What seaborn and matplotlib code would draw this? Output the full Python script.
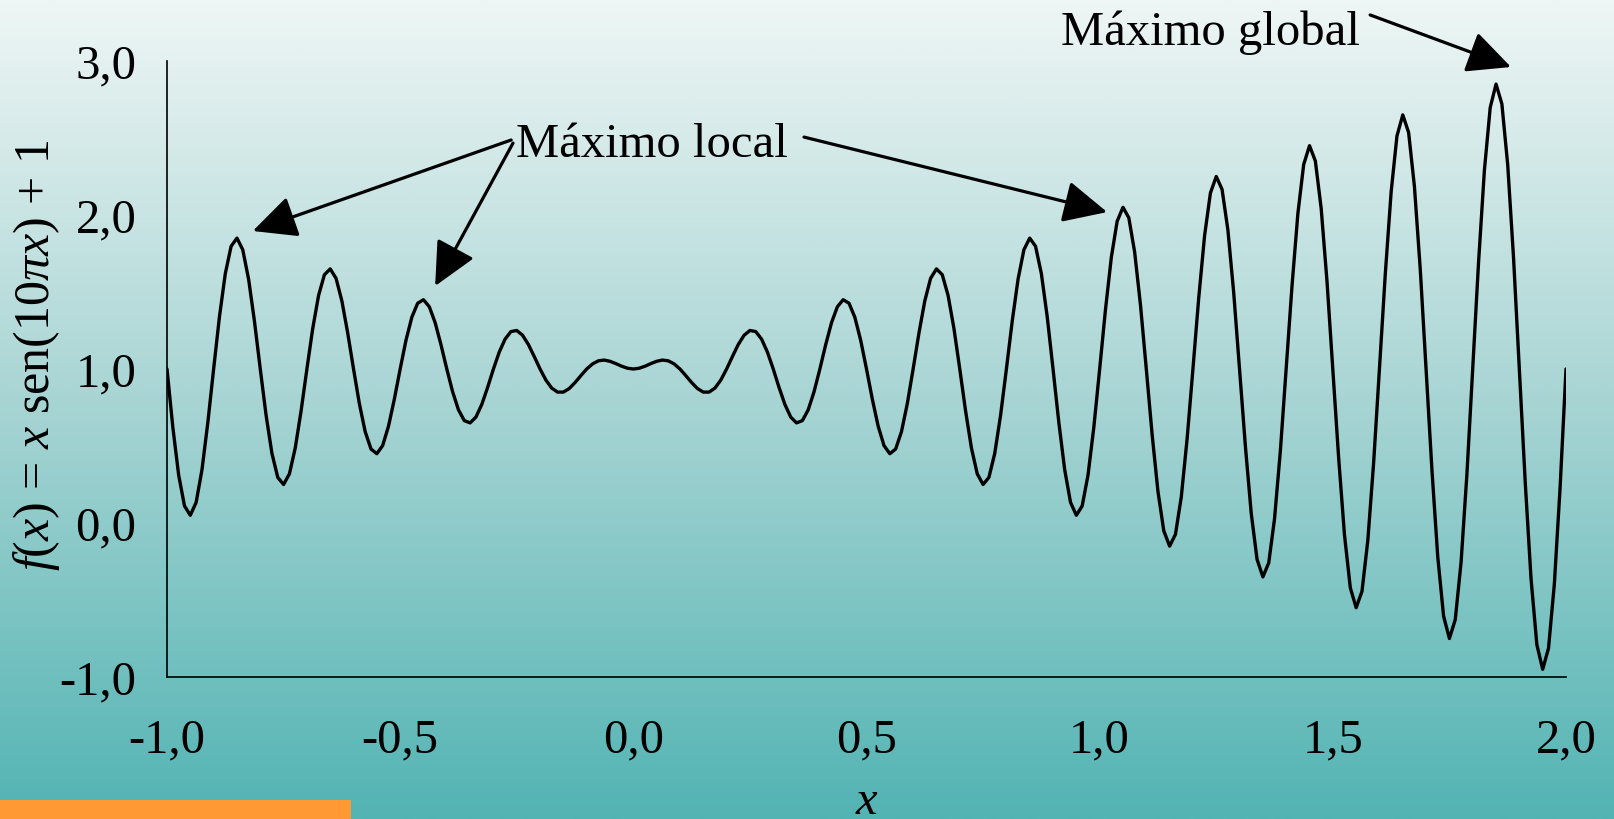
import numpy as np
import matplotlib
matplotlib.use("Agg")
import matplotlib.pyplot as plt
from matplotlib.colors import LinearSegmentedColormap
from matplotlib.patches import Rectangle
import seaborn as sns

# ---------------- data ----------------
x_start, x_end, n_points = -1.0, 2.0, 241
x_values = np.linspace(x_start, x_end, n_points)

y_values = [
    1.000, 0.622, 0.311, 0.111, 0.050, 0.134, 0.346, 0.651, 1.000, 1.340, 1.619, 1.797, 1.850, 1.774, 1.583, 1.311,
    1.000, 0.699, 0.452, 0.296, 0.250, 0.319, 0.487, 0.727, 1.000, 1.263, 1.477, 1.612, 1.650, 1.589, 1.442, 1.234,
    1.000, 0.775, 0.593, 0.480, 0.450, 0.503, 0.629, 0.804, 1.000, 1.187, 1.336, 1.427, 1.450, 1.404, 1.301, 1.158,
    1.000, 0.852, 0.735, 0.665, 0.650, 0.688, 0.770, 0.880, 1.000, 1.110, 1.194, 1.243, 1.250, 1.219, 1.159, 1.081,
    1.000, 0.928, 0.876, 0.850, 0.850, 0.873, 0.912, 0.957, 1.000, 1.033, 1.053, 1.058, 1.050, 1.035, 1.018, 1.005,
    1.000, 1.005, 1.018, 1.035, 1.050, 1.058, 1.053, 1.033, 1.000, 0.957, 0.912, 0.873, 0.850, 0.850, 0.876, 0.928,
    1.000, 1.081, 1.159, 1.219, 1.250, 1.243, 1.194, 1.110, 1.000, 0.880, 0.770, 0.688, 0.650, 0.665, 0.735, 0.852,
    1.000, 1.158, 1.301, 1.404, 1.450, 1.427, 1.336, 1.187, 1.000, 0.804, 0.629, 0.503, 0.450, 0.480, 0.593, 0.775,
    1.000, 1.234, 1.442, 1.589, 1.650, 1.612, 1.477, 1.263, 1.000, 0.727, 0.487, 0.319, 0.250, 0.296, 0.452, 0.699,
    1.000, 1.311, 1.583, 1.774, 1.850, 1.797, 1.619, 1.340, 1.000, 0.651, 0.346, 0.134, 0.050, 0.111, 0.311, 0.622,
    1.000, 1.387, 1.725, 1.959, 2.050, 1.982, 1.760, 1.416, 1.000, 0.574, 0.205, -0.051, -0.150, -0.074, 0.169, 0.546,
    1.000, 1.464, 1.866, 2.143, 2.250, 2.166, 1.902, 1.493, 1.000, 0.498, 0.063, -0.236, -0.350, -0.259, 0.028, 0.469,
    1.000, 1.541, 2.008, 2.328, 2.450, 2.351, 2.043, 1.569, 1.000, 0.421, -0.078, -0.421, -0.550, -0.444, -0.114, 0.392,
    1.000, 1.617, 2.149, 2.513, 2.650, 2.536, 2.184, 1.646, 1.000, 0.345, -0.220, -0.605, -0.750, -0.628, -0.255, 0.316,
    1.000, 1.694, 2.290, 2.698, 2.850, 2.721, 2.326, 1.722, 1.000, 0.268, -0.361, -0.790, -0.950, -0.813, -0.397, 0.239,
    1.000,
]

x_ticks = [-1.0, -0.5, 0.0, 0.5, 1.0, 1.5, 2.0]
x_tick_labels = ["-1,0", "-0,5", "0,0", "0,5", "1,0", "1,5", "2,0"]
y_ticks = [-1.0, 0.0, 1.0, 2.0, 3.0]
y_tick_labels = ["-1,0", "0,0", "1,0", "2,0", "3,0"]

label_local = "Máximo local"
label_global = "Máximo global"
x_label = "$x$"
y_label = "$f$($x$) = $x$ sen(10$πx$) + 1"

# ---------------- style ----------------
sns.set_theme(style="white")
plt.rcParams["font.family"] = ["Liberation Serif", "DejaVu Serif"]
plt.rcParams["mathtext.fontset"] = "custom"
plt.rcParams["mathtext.rm"] = "Liberation Serif"
plt.rcParams["mathtext.it"] = "Liberation Serif:italic"
plt.rcParams["text.color"] = "black"
plt.rcParams["axes.labelcolor"] = "black"

W, H = 1615, 819
fig = plt.figure(figsize=(W / 100, H / 100), dpi=100)

# gradient background
bg = fig.add_axes([0, 0, 1, 1], zorder=-10)
cmap = LinearSegmentedColormap.from_list("bg", ["#52B4B3", "#A6D4D3", "#EEF6F5"])
grad = np.linspace(0, 1, 512).reshape(-1, 1)
bg.imshow(grad, aspect="auto", cmap=cmap, origin="lower", extent=[0, 1, 0, 1])
bg.axis("off")

# orange box at bottom left
fig.patches.append(Rectangle((0, 0), 351 / W, 19 / H, transform=fig.transFigure,
                             facecolor="#FF9933", edgecolor="none", zorder=5))

ax_left, ax_right, ax_top, ax_bottom = 167, 1566, 61, 677
ax = fig.add_axes([ax_left / W, 1 - ax_bottom / H, (ax_right - ax_left) / W, (ax_bottom - ax_top) / H])
ax.patch.set_alpha(0)

sns.lineplot(x=x_values, y=y_values, ax=ax, color="black", linewidth=2.4,
             estimator=None, sort=False)

ax.set_xlim(-1, 2)
ax.set_ylim(-1, 3)
ax.set_xticks(x_ticks)
ax.set_xticklabels(x_tick_labels)
ax.set_yticks(y_ticks)
ax.set_yticklabels(y_tick_labels)

for s in ["top", "right"]:
    ax.spines[s].set_visible(False)
for s in ["left", "bottom"]:
    ax.spines[s].set_color("black")
    ax.spines[s].set_linewidth(1.2)

ax.tick_params(axis="both", direction="out", length=10, width=1.0, color="black",
               labelsize=35, labelcolor="black")
ax.tick_params(axis="y", pad=12)
ax.tick_params(axis="x", pad=20)
ax.grid(False)

ax.set_xlabel(x_label, fontsize=35, color="black")
ax.xaxis.set_label_coords(0.5, -0.203)
ax.xaxis.label.set_verticalalignment("center")
ax.set_ylabel(y_label, fontsize=36, color="black")
ax.yaxis.set_label_coords(-0.093, 0.523)
ax.yaxis.label.set_verticalalignment("center")

# annotations
arrow_kw = dict(arrowstyle="-|>,head_length=1.35,head_width=0.65", mutation_scale=20,
                color="black", lw=2.3, shrinkA=0, shrinkB=0)
ax.text(0.040, 2.377, label_local, fontsize=35, ha="center", va="baseline", color="black")
ax.annotate("", xy=(-0.816, 1.896), xytext=(-0.262, 2.487), arrowprops=arrow_kw)
ax.annotate("", xy=(-0.425, 1.539), xytext=(-0.258, 2.467), arrowprops=arrow_kw)
ax.annotate("", xy=(1.016, 2.019), xytext=(0.366, 2.506), arrowprops=arrow_kw)

ax.text(1.237, 3.104, label_global, fontsize=35, ha="center", va="baseline",
        color="black", clip_on=False)
ax.annotate("", xy=(1.882, 2.961), xytext=(1.580, 3.299), arrowprops=arrow_kw,
            annotation_clip=False)

fig.savefig("out.png", dpi=100)
